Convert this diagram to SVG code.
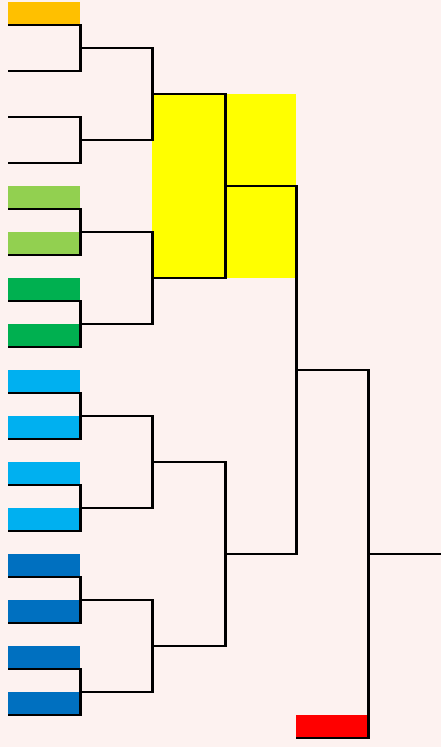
<svg xmlns="http://www.w3.org/2000/svg" width="441" height="747" viewBox="0 0 441 747">
<style>
.h{stroke:#000;stroke-width:2;fill:none}
.v{stroke:#000;stroke-width:3;fill:none}
.orange{fill:#FFC000}.lgreen{fill:#92D050}.green{fill:#00B050}.lblue{fill:#00B0F0}.blue{fill:#0070C0}.yellow{fill:#FFFF00}.red{fill:#FF0000}
</style>
<rect x="0" y="0" width="441" height="747" fill="#FDF2F0"/>
<g id="semifinal-highlight"><rect class="yellow" x="152" y="94" width="144" height="184"/></g>
<g id="team1"><rect class="orange" x="8" y="2" width="72" height="22"/></g>
<g id="team5"><rect class="lgreen" x="8" y="186" width="72" height="22"/></g>
<g id="team6"><rect class="lgreen" x="8" y="232" width="72" height="22"/></g>
<g id="team7"><rect class="green" x="8" y="278" width="72" height="22"/></g>
<g id="team8"><rect class="green" x="8" y="324" width="72" height="22"/></g>
<g id="team9"><rect class="lblue" x="8" y="370" width="72" height="22"/></g>
<g id="team10"><rect class="lblue" x="8" y="416" width="72" height="22"/></g>
<g id="team11"><rect class="lblue" x="8" y="462" width="72" height="22"/></g>
<g id="team12"><rect class="lblue" x="8" y="508" width="72" height="22"/></g>
<g id="team13"><rect class="blue" x="8" y="554" width="72" height="22"/></g>
<g id="team14"><rect class="blue" x="8" y="600" width="72" height="22"/></g>
<g id="team15"><rect class="blue" x="8" y="646" width="72" height="22"/></g>
<g id="team16"><rect class="blue" x="8" y="692" width="72" height="22"/></g>
<g id="team-red"><rect class="red" x="296" y="715" width="72" height="22"/></g>
<g id="connectors">
<path class="h" d="M8 25H82M8 71H82M8 117H82M8 163H82M8 209H82M8 255H82M8 301H82M8 347H82M8 393H82M8 439H82M8 485H82M8 531H82M8 577H82M8 623H82M8 669H82M8 715H82"/>
<path class="h" d="M80 48H154M80 140H154M80 232H154M80 324H154M80 416H154M80 508H154M80 600H154M80 692H154"/>
<path class="h" d="M152 94H227M152 278H227M152 462H227M152 646H227"/>
<path class="h" d="M224 186H298M224 554H298"/>
<path class="h" d="M296 370H370M296 738H370M368 554H441"/>
<path class="v" d="M80.5 24V72M80.5 116V164M80.5 208V256M80.5 300V348M80.5 392V440M80.5 484V532M80.5 576V624M80.5 668V716"/>
<path class="v" d="M152.5 47V141M152.5 231V325M152.5 415V509M152.5 599V693"/>
<path class="v" d="M225.5 93V279M225.5 461V647"/>
<path class="v" d="M296.5 185V555"/>
<path class="v" d="M368.5 369V739"/>
</g>
</svg>
